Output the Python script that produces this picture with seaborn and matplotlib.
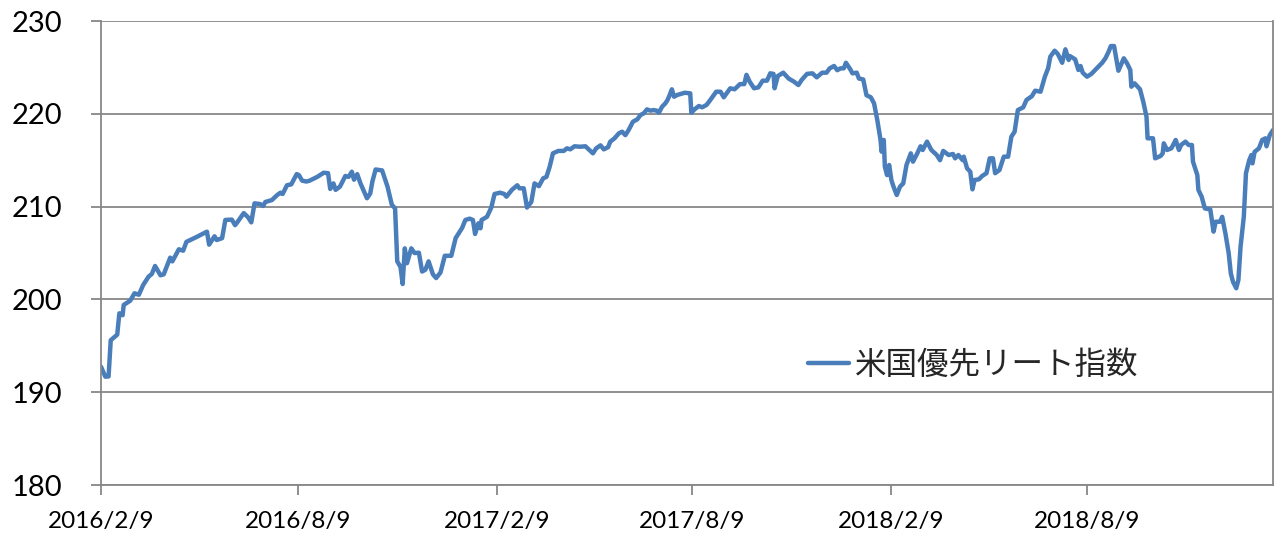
import matplotlib
matplotlib.use("Agg")
import matplotlib.pyplot as plt
import numpy as np
import pandas as pd
import seaborn as sns

# ---------------- data ----------------
start_date = "2016-02-09"

day_offsets = [
    0, 4, 7, 9, 15, 17, 20, 21, 27, 31, 35, 39, 44, 47, 50, 55, 58, 64, 66, 72, 76, 79, 89, 98, 100,
    105, 107, 112, 115, 121, 124, 126, 132, 136, 139, 142, 147, 150, 152, 158, 163, 166, 168, 172,
    176, 181, 183, 186, 190, 193, 200, 206, 210, 212, 215, 217, 221, 226, 229, 232, 234, 237, 240,
    246, 249, 251, 254, 260,
    265, 269, 272, 274, 277, 279, 281, 283, 287, 290, 294, 297, 300, 303, 307, 310, 314, 318, 324,
    328, 334, 337, 341, 344, 346, 349, 351, 352, 357, 361, 364, 369, 373, 375, 380, 385, 387, 391,
    394, 398, 401, 405, 409, 412, 415, 418, 423, 428, 431, 434, 438, 443, 448, 451, 455, 458, 462,
    465, 469,
    471, 475, 479, 482, 485, 488, 492, 496, 499, 502, 505, 508, 511, 514, 516, 519, 522, 524, 526,
    528, 530, 533, 536, 540, 545, 546, 549, 553, 556, 560, 563,
    569, 573, 576, 582, 586, 591, 595, 597, 600, 604, 608, 612, 616, 619, 622, 623, 626, 631, 636,
    641, 645, 648, 653, 658, 662, 667, 671, 674, 678, 681, 684, 687, 689, 693, 695, 699, 701, 705,
    708, 712, 715, 718, 721, 722, 724, 725, 727, 729, 731, 733, 736, 739, 742, 745, 749, 751, 755,
    758, 760, 764, 768, 773, 776, 779, 784, 788, 790, 793, 797, 798, 801, 804, 806, 808, 812, 815,
    819, 822, 825, 827, 831,
    835, 839, 842, 845, 848, 853, 856, 861, 864, 869, 873, 876, 878, 882, 885, 889, 892, 895, 896,
    901, 904, 906, 908, 912, 916, 921, 926, 929, 932, 934, 937, 939, 941, 946, 949, 952, 953, 956,
    961, 964, 967, 968, 973, 975, 980, 982, 983, 986, 990, 994, 997, 999, 1003, 1006, 1009, 1010,
    1014, 1015, 1018, 1021, 1026, 1029, 1031, 1035, 1037, 1040, 1043, 1045, 1047, 1050, 1052, 1054,
    1057, 1059, 1062, 1064, 1065, 1067, 1071, 1074, 1077, 1078, 1081, 1084,
]

index_values = [
    192.75, 191.67, 191.7, 195.6, 196.2, 198.5, 198.3, 199.4, 199.86, 200.66, 200.5, 201.55, 202.45,
    202.74, 203.6, 202.6, 202.7, 204.5, 204.1, 205.4, 205.25, 206.2, 206.76, 207.3, 205.9,
    206.8, 206.4, 206.6, 208.56, 208.6, 208.0, 208.3, 209.3, 208.85, 208.3, 210.35, 210.28, 210.07,
    210.5, 210.7, 211.25, 211.5, 211.36, 212.3, 212.4, 213.5, 213.4, 212.8, 212.7, 212.8, 213.2,
    213.65, 213.6, 211.9, 212.5, 211.8, 212.15, 213.3, 213.2, 213.76, 212.9, 213.5, 212.5,
    210.9, 211.4, 212.7, 214.0, 213.9,
    212.15, 210.2, 209.8, 204.1, 203.5, 201.66, 205.5, 203.9, 205.5, 205.0, 205.03, 203.0, 203.2,
    204.1, 202.7, 202.3, 202.9, 204.7, 204.7, 206.6, 207.7, 208.56, 208.7, 208.56, 207.05, 208.2,
    207.66, 208.56, 208.9, 209.9, 211.36, 211.5, 211.36, 211.07, 211.8, 212.3, 211.97, 211.97,
    209.9, 210.5, 212.5, 212.2, 213.05, 213.2, 214.3, 215.74, 216.0, 216.0, 216.28, 216.17, 216.5,
    216.45, 216.5, 216.17, 215.74, 216.28, 216.6, 216.17, 216.4,
    217.0, 217.36, 217.9, 218.07, 217.7, 218.25, 219.15, 219.4, 219.87, 220.05, 220.48, 220.34,
    220.4, 220.34, 220.12, 220.77, 221.13, 221.49, 222.03, 222.64, 221.84, 222.03, 222.13, 222.27,
    222.2, 220.12, 220.48, 220.84, 220.7, 220.95, 221.4,
    222.38, 222.38, 221.78, 222.75, 222.64, 223.2, 223.2, 224.2, 223.46, 222.75, 222.85, 223.57,
    223.57, 224.36, 224.3, 222.75, 224.07, 224.43, 223.8, 223.46, 223.1, 223.64, 224.3, 224.36,
    223.93, 224.43, 224.43, 224.9, 225.15, 224.7, 224.9, 224.9, 225.5, 224.8, 224.36, 224.43,
    223.8, 223.7, 222.0, 221.78, 221.13, 219.33, 217.18, 215.92, 217.18, 214.3, 213.4, 214.48,
    212.87, 212.15, 211.25, 212.15, 212.5, 214.48, 215.74, 214.84, 215.74, 216.5, 216.1, 217.0,
    216.1, 215.56, 215.0, 216.0, 215.56, 215.67, 215.2, 215.56, 215.0, 215.38, 214.13, 213.76,
    211.86, 212.87, 212.94, 213.3, 213.6, 215.2, 215.2, 213.6, 213.94,
    215.38, 215.38, 217.53, 218.07, 220.4, 220.7, 221.49, 221.9, 222.49, 222.38, 224.0, 224.9,
    226.15, 226.8, 226.44, 225.5, 226.95, 225.8, 226.23, 225.87, 224.72, 225.15, 224.43, 224.0,
    224.3, 224.9, 225.5, 225.98, 226.7, 227.3, 227.3, 225.98, 224.64, 225.98, 225.44, 224.72,
    222.92, 223.28, 222.64, 221.3, 219.69, 217.36, 217.36, 215.2, 215.45, 215.74, 216.82, 216.1,
    216.28, 217.18, 216.1, 216.64, 217.0, 216.64, 216.64, 214.84, 213.4, 211.8, 211.07, 209.8,
    209.7, 207.3, 208.37, 208.37, 208.9, 207.1, 205.0, 202.8, 201.9, 201.2, 202.1, 205.7, 208.9,
    213.6, 215.0, 215.56, 214.66, 215.9, 216.28, 217.18, 217.36, 216.5, 217.7, 218.25,
]

series_name = "米国優先リート指数"
tick_dates = ["2016-02-09", "2016-08-09", "2017-02-09", "2017-08-09", "2018-02-09", "2018-08-09"]
tick_labels = ["2016/2/9", "2016/8/9", "2017/2/9", "2017/8/9", "2018/2/9", "2018/8/9"]
y_ticks = [180, 190, 200, 210, 220, 230]

# ---------------- style ----------------
sns.set_style("white")
plt.rcParams["font.family"] = ["Lato", "Noto Sans CJK JP", "DejaVu Sans"]

line_color = "#4A7EBB"
grid_color = "#878787"

df = pd.DataFrame({
    "date": pd.Timestamp(start_date) + pd.to_timedelta(day_offsets, unit="D"),
    "value": index_values,
    "series": series_name,
})

W, H = 1274, 533
fig = plt.figure(figsize=(W / 100, H / 100), dpi=100)
ax = fig.add_axes([101 / W, 48 / H, 1172 / W, 464 / H])

sns.lineplot(data=df, x="date", y="value", hue="series", palette=[line_color],
             linewidth=3.2, ax=ax, legend=True)
for ln in ax.get_lines():
    ln.set_solid_joinstyle("round")
    ln.set_solid_capstyle("round")

ax.set_xlim(df["date"].iloc[0], df["date"].iloc[-1])
ax.set_ylim(y_ticks[0], y_ticks[-1])
ax.set_yticks(y_ticks)
ax.set_yticklabels([str(v) for v in y_ticks])
ax.set_xticks(pd.to_datetime(tick_dates))
ax.set_xticklabels(tick_labels)
ax.set_xlabel("")
ax.set_ylabel("")

ax.yaxis.grid(True, color=grid_color, linewidth=1.3)
ax.xaxis.grid(False)
ax.set_axisbelow(True)

for side in ["left", "bottom", "right"]:
    ax.spines[side].set_visible(True)
    ax.spines[side].set_color(grid_color)
    ax.spines[side].set_linewidth(1.3)
ax.spines["top"].set_visible(False)

ax.tick_params(axis="y", direction="out", length=7, width=1.3, color=grid_color,
               pad=21, labelsize=21, labelcolor="black", left=True)
ax.tick_params(axis="x", direction="out", length=7, width=1.3, color=grid_color,
               pad=12, labelsize=17.5, labelcolor="black", bottom=True)

leg = ax.legend(loc="center left", bbox_to_anchor=((808 - 101) / 1172, (485 - 365) / 464),
                frameon=False, borderpad=0, borderaxespad=0, handlelength=1.3,
                handletextpad=0.2,
                prop={"family": ["Noto Sans CJK JP", "DejaVu Sans"], "size": 22.7})
for h in leg.get_lines():
    h.set_linewidth(3.2)

fig.savefig("out.png", dpi=100)
